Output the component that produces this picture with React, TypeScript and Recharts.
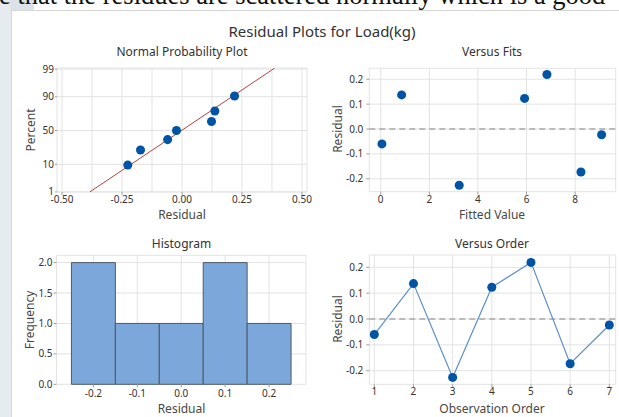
import React from "react";
import {
  ScatterChart,
  Scatter,
  XAxis,
  YAxis,
  ZAxis,
  CartesianGrid,
  ReferenceLine,
  ReferenceArea,
} from "recharts";

const FONT = "'Noto Sans', 'Open Sans', sans-serif";
const INK = "#333333";
const LABEL_INK = "#484848";
const GRID = "#e3e3e3";
const FRAME = "#9d9d9d";
const DOT = "#0054a6";
const FIT_LINE = "#b5423f";
const ORDER_LINE = "#5b8fd0";
const BAR_FILL = "#7ba7da";
const BAR_EDGE = "#4f5a68";

// residuals in observation order, with their fitted values
const residuals = [-0.06, 0.137, -0.226, 0.123, 0.219, -0.173, -0.023];
const fittedValues = [0.05, 0.86, 3.23, 5.92, 6.84, 8.24, 9.09];
const observationOrder = [1, 2, 3, 4, 5, 6, 7];

// normal probability plot: percent for each sorted residual, and the fitted line ends
const probPercents = [9.5, 23, 36.5, 50, 63.5, 77, 90.5];
const fitLineResidual = [-0.384, 0.386];
const fitLinePercent = [1, 99.1];
const percentTicks = [1, 10, 50, 90, 99];
const nppResidualTicks = [-0.5, -0.25, 0, 0.25, 0.5];
const nppMinorGrid = [-0.375, -0.125, 0.125, 0.375];

// histogram
const binEdges = [-0.25, -0.15, -0.05, 0.05, 0.15, 0.25];
const binFreq = [2, 1, 1, 2, 1];
const binTicks = [-0.2, -0.1, 0, 0.1, 0.2];
const freqTicks = [0, 0.5, 1, 1.5, 2];

const residualTicks = [-0.2, -0.1, 0, 0.1, 0.2];
const fitTicks = [0, 2, 4, 6, 8];

// inverse normal cdf (Abramowitz & Stegun 26.2.23) for the probability scale
function probit(pct: number) {
  const p = pct / 100;
  const q = p < 0.5 ? p : 1 - p;
  const t = Math.sqrt(-2 * Math.log(q));
  const z =
    t -
    (2.515517 + 0.802853 * t + 0.010328 * t * t) /
      (1 + 1.432788 * t + 0.189269 * t * t + 0.001308 * t * t * t);
  return p < 0.5 ? -z : z;
}

const tickStyle = { fontSize: 10, fill: INK, fontFamily: FONT };
const tickLine = { stroke: FRAME };

function Txt({
  x,
  y,
  size = 12,
  color = LABEL_INK,
  rotate = false,
  children,
}: {
  x: number;
  y: number;
  size?: number;
  color?: string;
  rotate?: boolean;
  children: React.ReactNode;
}) {
  return (
    <div
      style={{
        position: "absolute",
        left: x,
        top: y,
        transform: `translate(-50%, -50%)${rotate ? " rotate(-90deg)" : ""}`,
        fontSize: size,
        lineHeight: 1,
        color,
        fontFamily: FONT,
        whiteSpace: "nowrap",
      }}
    >
      {children}
    </div>
  );
}

function NormalPlot() {
  const points = [...residuals]
    .sort((a, b) => a - b)
    .map((r, i) => ({ x: r, z: probit(probPercents[i]) }));
  const line = fitLineResidual.map((r, i) => ({ x: r, z: probit(fitLinePercent[i]) }));
  return (
    <ScatterChart width={315} height={160} margin={{ top: 8, right: 8, bottom: 8, left: 0 }}>
      <CartesianGrid stroke={GRID} />
      {nppMinorGrid.map((v) => (
        <ReferenceLine key={v} x={v} stroke={GRID} />
      ))}
      <XAxis
        type="number"
        dataKey="x"
        domain={[-0.521, 0.521]}
        allowDataOverflow
        ticks={nppResidualTicks}
        tickFormatter={(v: number) => v.toFixed(2)}
        height={20}
        tickSize={3}
        tickMargin={1}
        axisLine={false}
        tickLine={tickLine}
        tick={tickStyle}
      />
      <YAxis
        type="number"
        dataKey="z"
        domain={[-2.33, 2.37]}
        allowDataOverflow
        ticks={percentTicks.map(probit)}
        tickFormatter={(v: number) =>
          String(percentTicks.find((p) => Math.abs(probit(p) - v) < 1e-6) ?? "")
        }
        width={57}
        tickSize={2}
        tickMargin={1}
        axisLine={false}
        tickLine={tickLine}
        tick={tickStyle}
      />
      <ZAxis range={[42, 42]} />
      <Scatter
        data={line}
        line={{ stroke: FIT_LINE, strokeWidth: 1 }}
        shape={() => <g />}
        isAnimationActive={false}
      />
      <Scatter data={points} fill={DOT} isAnimationActive={false} />
      <ReferenceArea fill="none" stroke={FRAME} strokeWidth={1.5} />
    </ScatterChart>
  );
}

function VersusFits() {
  const points = residuals.map((r, i) => ({ x: fittedValues[i], y: r }));
  return (
    <ScatterChart width={299} height={160} margin={{ top: 8.3, right: 3.3, bottom: 8.3, left: 0 }}>
      <CartesianGrid stroke={GRID} />
      <XAxis
        type="number"
        dataKey="x"
        domain={[-0.47, 9.67]}
        allowDataOverflow
        ticks={fitTicks}
        height={20}
        tickSize={3}
        tickMargin={1}
        axisLine={false}
        tickLine={tickLine}
        tick={tickStyle}
      />
      <YAxis
        type="number"
        dataKey="y"
        domain={[-0.252, 0.244]}
        allowDataOverflow
        ticks={residualTicks}
        tickFormatter={(v: number) => v.toFixed(1)}
        width={49.3}
        tickSize={3}
        tickMargin={3}
        axisLine={false}
        tickLine={tickLine}
        tick={tickStyle}
      />
      <ZAxis range={[42, 42]} />
      <ReferenceLine y={0} stroke="#a8a8a8" strokeWidth={1.3} strokeDasharray="6 4" />
      <Scatter data={points} fill={DOT} isAnimationActive={false} />
      <ReferenceArea fill="none" stroke={FRAME} strokeWidth={1.5} />
    </ScatterChart>
  );
}

function Histogram() {
  const bins = binFreq.map((f, i) => ({
    lo: binEdges[i],
    hi: binEdges[i + 1],
    x: (binEdges[i] + binEdges[i + 1]) / 2,
    y: f,
  }));
  return (
    <ScatterChart width={315} height={160} margin={{ top: 10.3, right: 9, bottom: 0.7, left: 0 }}>
      <CartesianGrid stroke={GRID} />
      <XAxis
        type="number"
        dataKey="x"
        domain={[-0.284, 0.284]}
        allowDataOverflow
        ticks={binTicks}
        tickFormatter={(v: number) => v.toFixed(1)}
        height={20}
        tickSize={3}
        tickMargin={3}
        axisLine={false}
        tickLine={tickLine}
        tick={tickStyle}
      />
      <YAxis
        type="number"
        dataKey="y"
        domain={[0, 2.12]}
        allowDataOverflow
        ticks={freqTicks}
        tickFormatter={(v: number) => v.toFixed(1)}
        width={56.5}
        tickSize={3}
        tickMargin={1}
        axisLine={false}
        tickLine={tickLine}
        tick={tickStyle}
      />
      {bins.map((b) => (
        <ReferenceArea
          key={b.lo}
          x1={b.lo}
          x2={b.hi}
          y1={0}
          y2={b.y}
          fill={BAR_FILL}
          fillOpacity={1}
          stroke={BAR_EDGE}
          strokeWidth={1}
        />
      ))}
      <Scatter data={bins} shape={() => <g />} isAnimationActive={false} />
      <ReferenceArea fill="none" stroke={FRAME} strokeWidth={1.5} />
    </ScatterChart>
  );
}

function VersusOrder() {
  const points = residuals.map((r, i) => ({ x: observationOrder[i], y: r }));
  return (
    <ScatterChart width={299} height={160} margin={{ top: 10, right: 3.3, bottom: 0.7, left: 0 }}>
      <CartesianGrid stroke={GRID} />
      <XAxis
        type="number"
        dataKey="x"
        domain={[0.872, 7.163]}
        allowDataOverflow
        ticks={observationOrder}
        height={20}
        tickSize={3}
        tickMargin={1}
        axisLine={false}
        tickLine={tickLine}
        tick={tickStyle}
      />
      <YAxis
        type="number"
        dataKey="y"
        domain={[-0.2526, 0.2476]}
        allowDataOverflow
        ticks={residualTicks}
        tickFormatter={(v: number) => v.toFixed(1)}
        width={49.3}
        tickSize={3}
        tickMargin={3}
        axisLine={false}
        tickLine={tickLine}
        tick={tickStyle}
      />
      <ZAxis range={[42, 42]} />
      <ReferenceLine y={0} stroke="#a8a8a8" strokeWidth={1.3} strokeDasharray="6 4" />
      <Scatter
        data={points}
        fill={DOT}
        line={{ stroke: ORDER_LINE, strokeWidth: 1.2 }}
        isAnimationActive={false}
      />
      <ReferenceArea fill="none" stroke={FRAME} strokeWidth={1.5} />
    </ScatterChart>
  );
}

export default function App() {
  return (
    <div
      style={{
        position: "absolute",
        left: 0,
        top: 0,
        width: 619,
        height: 417,
        overflow: "hidden",
        background: "#ffffff",
      }}
    >
      {/* page backdrop from the source document */}
      <div style={{ position: "absolute", left: 0, top: 0, width: 11, height: 417, background: "#e6ebef" }} />
      <div style={{ position: "absolute", left: 10, top: 0, width: 24, height: 10, background: "#dbe2e8" }} />
      <div style={{ position: "absolute", left: 11, top: 10, width: 608, height: 407, borderTop: "1px solid #d6d6d6", borderLeft: "1px solid #d6d6d6" }} />
      <div
        style={{
          position: "absolute",
          left: -1,
          top: -17,
          fontFamily: "'Liberation Serif', serif",
          fontSize: 26.5,
          lineHeight: "24px",
          color: "#111",
          whiteSpace: "nowrap",
        }}
      >
        e that the residues are scattered normally which is a good
      </div>

      <Txt x={322} y={31} size={15} color={INK}>Residual Plots for Load(kg)</Txt>

      <Txt x={182} y={52} size={12} color={INK}>Normal Probability Plot</Txt>
      <Txt x={492} y={52} size={12} color={INK}>Versus Fits</Txt>
      <Txt x={181.5} y={244} size={12} color={INK}>Histogram</Txt>
      <Txt x={492} y={244} size={12} color={INK}>Versus Order</Txt>

      <div style={{ position: "absolute", left: 0, top: 60 }}>
        <NormalPlot />
      </div>
      <div style={{ position: "absolute", left: 320, top: 60 }}>
        <VersusFits />
      </div>
      <div style={{ position: "absolute", left: 0, top: 245 }}>
        <Histogram />
      </div>
      <div style={{ position: "absolute", left: 320, top: 245 }}>
        <VersusOrder />
      </div>

      <Txt x={182} y={215}>Residual</Txt>
      <Txt x={492} y={215}>Fitted Value</Txt>
      <Txt x={181.5} y={409}>Residual</Txt>
      <Txt x={492} y={409}>Observation Order</Txt>
      <Txt x={31} y={130} rotate>Percent</Txt>
      <Txt x={338} y={129} rotate>Residual</Txt>
      <Txt x={30} y={320} rotate>Frequency</Txt>
      <Txt x={338} y={319} rotate>Residual</Txt>
    </div>
  );
}
